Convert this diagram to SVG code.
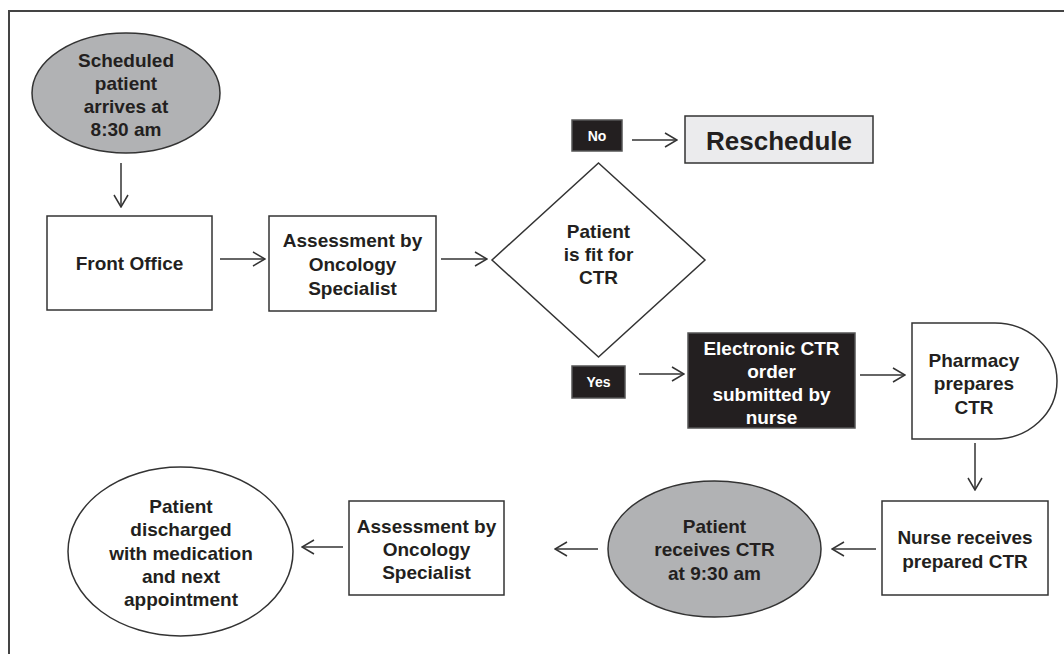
<svg xmlns="http://www.w3.org/2000/svg" width="1064" height="654" viewBox="0 0 1064 654">
<style>
  .shape { stroke: #333333; stroke-width: 1.5; fill: #ffffff; }
  .gray { fill: #b1b2b4; }
  .light { fill: #ebebed; }
  .dark { fill: #231f20; stroke: #555555; }
  .t { font-family: "Liberation Sans", Arial, sans-serif; font-weight: bold; font-size: 19px; fill: #231f20; text-anchor: middle; dominant-baseline: central; }
  .w { fill: #ffffff; }
  .small { font-size: 14px; }
  .big { font-size: 26px; }
  .conn line { stroke: #333333; stroke-width: 1.5; fill: none; marker-end: url(#arrow); }
  .frame { stroke: #444444; stroke-width: 2; fill: none; }
</style>
<defs>
  <marker id="arrow" markerUnits="userSpaceOnUse" markerWidth="14" markerHeight="16" viewBox="0 0 14 16" refX="13" refY="8" orient="auto">
    <path d="M1,1 L13,8 L1,15" fill="none" stroke="#333333" stroke-width="1.5"/>
  </marker>
</defs>
<rect width="1064" height="654" fill="#ffffff"/>
<path class="frame" d="M9,654 V11 H1064"/>

<g id="start">
  <ellipse class="shape gray" cx="126" cy="93" rx="94" ry="60"/>
  <text class="t" x="126" y="60">Scheduled</text>
  <text class="t" x="126" y="83">patient</text>
  <text class="t" x="126" y="106">arrives at</text>
  <text class="t" x="126" y="129">8:30 am</text>
</g>
<g id="front-office">
  <rect class="shape" x="47" y="216" width="165" height="94"/>
  <text class="t" x="129.5" y="263">Front Office</text>
</g>
<g id="assessment1">
  <rect class="shape" x="269" y="216" width="167" height="95"/>
  <text class="t" x="352.5" y="240">Assessment by</text>
  <text class="t" x="352.5" y="264">Oncology</text>
  <text class="t" x="352.5" y="288">Specialist</text>
</g>
<g id="decision">
  <polygon class="shape" points="598.5,163 705,260 598.5,357 492,260"/>
  <text class="t" x="598.5" y="231">Patient</text>
  <text class="t" x="598.5" y="254">is fit for</text>
  <text class="t" x="598.5" y="277">CTR</text>
</g>
<g id="no-label">
  <rect class="shape dark" x="572" y="120" width="50" height="31"/>
  <text class="t w small" x="597" y="136">No</text>
</g>
<g id="reschedule">
  <rect class="shape light" x="685" y="116" width="188" height="47"/>
  <text class="t big" x="779" y="141">Reschedule</text>
</g>
<g id="yes-label">
  <rect class="shape dark" x="572" y="366" width="53" height="32"/>
  <text class="t w small" x="598.5" y="382">Yes</text>
</g>
<g id="electronic-order">
  <rect class="shape dark" x="688" y="333" width="167" height="95"/>
  <text class="t w" x="771.5" y="348">Electronic CTR</text>
  <text class="t w" x="771.5" y="371">order</text>
  <text class="t w" x="771.5" y="394">submitted by</text>
  <text class="t w" x="771.5" y="417">nurse</text>
</g>
<g id="pharmacy">
  <path class="shape" d="M912,323 H995 A62,58 0 0 1 995,439 H912 Z"/>
  <text class="t" x="974" y="360">Pharmacy</text>
  <text class="t" x="974" y="383">prepares</text>
  <text class="t" x="974" y="407">CTR</text>
</g>
<g id="nurse-receives">
  <rect class="shape" x="882" y="501" width="166" height="94"/>
  <text class="t" x="965" y="537">Nurse receives</text>
  <text class="t" x="965" y="561">prepared CTR</text>
</g>
<g id="patient-receives">
  <ellipse class="shape gray" cx="714.5" cy="549" rx="106.5" ry="68"/>
  <text class="t" x="714.5" y="526">Patient</text>
  <text class="t" x="714.5" y="549">receives CTR</text>
  <text class="t" x="714.5" y="573">at 9:30 am</text>
</g>
<g id="assessment2">
  <rect class="shape" x="349" y="501" width="155" height="94"/>
  <text class="t" x="426.5" y="526">Assessment by</text>
  <text class="t" x="426.5" y="549">Oncology</text>
  <text class="t" x="426.5" y="572">Specialist</text>
</g>
<g id="discharged">
  <ellipse class="shape" cx="180.5" cy="551.5" rx="112.5" ry="84.5"/>
  <text class="t" x="181" y="506">Patient</text>
  <text class="t" x="181" y="529">discharged</text>
  <text class="t" x="181" y="553">with medication</text>
  <text class="t" x="181" y="576">and next</text>
  <text class="t" x="181" y="599">appointment</text>
</g>

<g id="connectors" class="conn">
  <line x1="121" y1="163" x2="121" y2="207"/>
  <line x1="220" y1="259" x2="265" y2="259"/>
  <line x1="441" y1="259" x2="487" y2="259"/>
  <line x1="632" y1="140" x2="677" y2="140"/>
  <line x1="639" y1="374" x2="684" y2="374"/>
  <line x1="860" y1="375" x2="905" y2="375"/>
  <line x1="975" y1="443" x2="975" y2="490"/>
  <line x1="876" y1="549" x2="832" y2="549"/>
  <line x1="598" y1="549" x2="555" y2="549"/>
  <line x1="343" y1="547" x2="302" y2="547"/>
</g>
</svg>
